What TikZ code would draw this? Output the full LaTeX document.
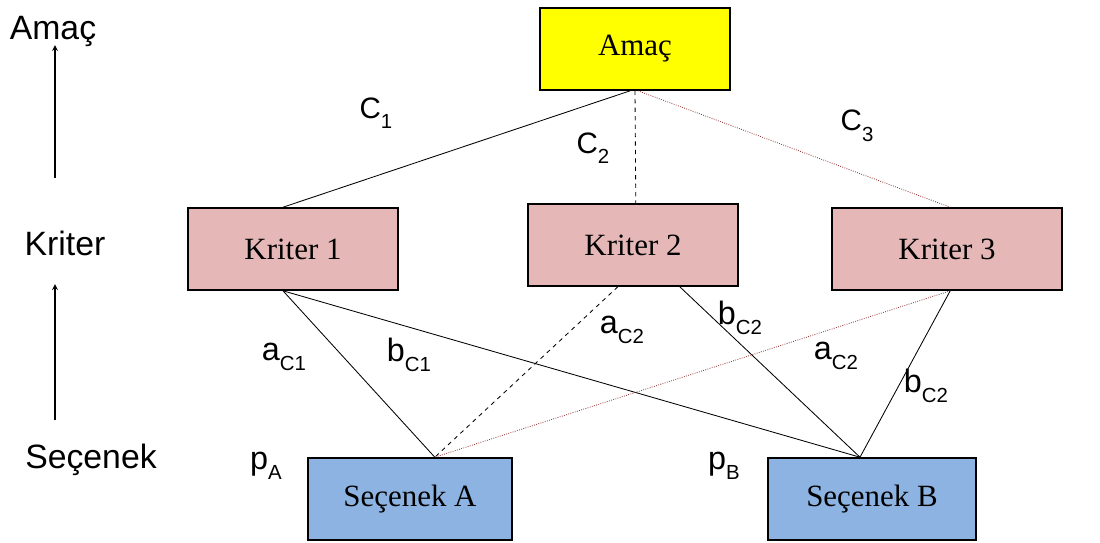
\documentclass[tikz,border=0pt]{standalone}
\usepackage{fontspec}
\setmainfont{Liberation Serif}
\setsansfont{Liberation Sans}
\usetikzlibrary{positioning}
\definecolor{amacsari}{RGB}{255,255,0}
\definecolor{kriterpembe}{RGB}{229,184,183}
\definecolor{secenekmavi}{RGB}{141,179,226}
\definecolor{kahve}{RGB}{150,60,60}
\newcommand{\altind}[1]{\raisebox{-7.5pt}{\fontsize{14.5}{16}\selectfont #1}}

\begin{document}
\begin{tikzpicture}[x=0.025cm, y=-0.025cm,
    kutu/.style={draw, line width=1.1pt, minimum height=2.05cm, font=\fontsize{22}{26}\selectfont},
    etiket/.style={font=\sffamily\fontsize{23}{27}\selectfont, inner sep=0pt},
    agirlik/.style={font=\sffamily\fontsize{21}{25}\selectfont, inner sep=0pt},
    baslik/.style={font=\sffamily\fontsize{24}{28}\selectfont, inner sep=0pt},
    bag/.style={line width=0.6pt},
    kesik/.style={line width=0.6pt, dashed},
    nokta/.style={line width=0.6pt, kahve, densely dotted}]
            \useasboundingbox (0,0) rectangle (1100,542);
            % Kutular
            \node[kutu, fill=amacsari, minimum width=4.75cm] (amac) at (635,49) {Amaç};
            \node[kutu, fill=kriterpembe, minimum width=5.25cm] (k1) at (293,249) {Kriter 1};
            \node[kutu, fill=kriterpembe, minimum width=5.25cm] (k2) at (633,245) {Kriter 2};
            \node[kutu, fill=kriterpembe, minimum width=5.75cm] (k3) at (947,249) {Kriter 3};
            \node[kutu, fill=secenekmavi, minimum width=5.1cm] (sa) at (410,499) {Seçenek A};
            \node[kutu, fill=secenekmavi, minimum width=5.2cm] (sb) at (872,499) {Seçenek B};

            % Seviyeler
            \node[baslik] (lamac) at (53,31) {Amaç};
            \node[baslik] (lkriter) at (65,243) {Kriter};
            \node[baslik] (lsecenek) at (91,460) {Seçenek};
            \coordinate (o1a) at (55,178);
            \coordinate (o1b) at (55,45);
            \coordinate (o2a) at (55,420);
            \coordinate (o2b) at (55,284);
            \draw[->, >=stealth, line width=0.9pt] (o1a) -- (o1b);
            \draw[->, >=stealth, line width=0.9pt] (o2a) -- (o2b);

            % Baglar
            \draw[bag] ([xshift=-0.12cm]amac.south) -- ([xshift=-0.25cm]k1.north);
            \draw[kesik] (amac.south) -- ([xshift=0.07cm]k2.north);
            \draw[nokta] ([xshift=0.07cm]amac.south) -- ([xshift=0.08cm]k3.north);
            \draw[bag] ([xshift=-0.25cm]k1.south) -- ([xshift=0.62cm]sa.north);
            \draw[bag] ([xshift=-0.25cm]k1.south) -- ([xshift=-0.3cm]sb.north);
            \draw[kesik] ([xshift=-0.38cm]k2.south) -- ([xshift=0.62cm]sa.north);
            \draw[bag] ([xshift=1.17cm]k2.south) -- ([xshift=-0.3cm]sb.north);
            \draw[nokta] ([xshift=0.08cm]k3.south) -- ([xshift=0.62cm]sa.north);
            \draw[bag] ([xshift=0.08cm]k3.south) -- ([xshift=-0.3cm]sb.north);

            % Agirliklar
            \node[agirlik] (c1) at (376,113) {C\altind{1}};
            \node[agirlik] (c2) at (593,148) {C\altind{2}};
            \node[agirlik] (c3) at (857,126) {C\altind{3}};
            \node[etiket] (ac1) at (284,357) {a\altind{C1}};
            \node[etiket] (bc1) at (409,355) {b\altind{C1}};
            \node[etiket] (ac2) at (622,330) {a\altind{C2}};
            \node[etiket] (bc2) at (740,318) {b\altind{C2}};
            \node[etiket] (ac2b) at (836,356) {a\altind{C2}};
            \node[etiket] (bc2b) at (926,386) {b\altind{C2}};
            \node[etiket] (pa) at (266,466) {p\altind{A}};
            \node[etiket] (pb) at (724,466) {p\altind{B}};
          \end{tikzpicture}
\end{document}
